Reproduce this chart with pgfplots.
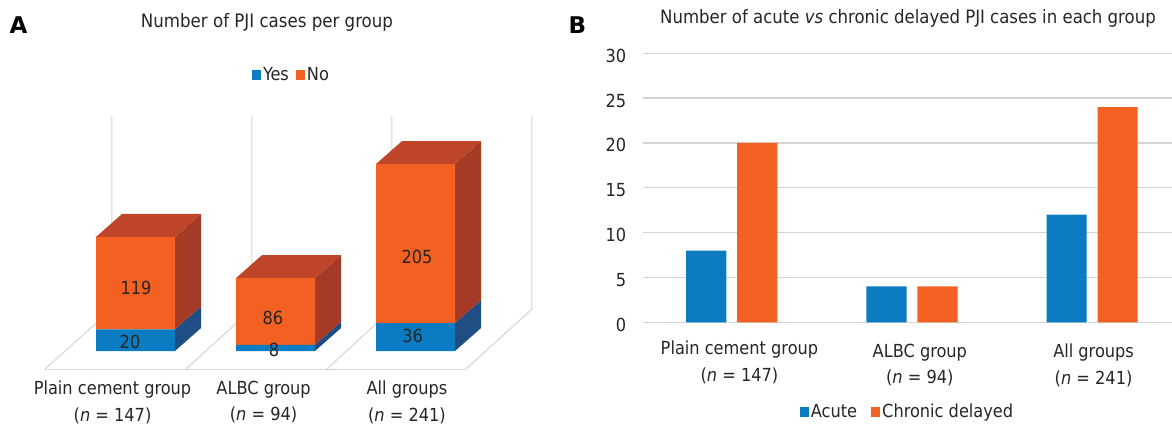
\documentclass[border=0pt]{standalone}
\usepackage{fontspec}
\setmainfont{DejaVu Sans Condensed}
\newfontfamily\heavy{DejaVu Sans}[BoldFont={DejaVu Sans Bold}]
\usepackage{pgfplots}
\pgfplotsset{compat=1.18}
\definecolor{cblue}{HTML}{0B7CC1}
\definecolor{corange}{HTML}{F26122}
\definecolor{sblue}{HTML}{1F4E85}
\definecolor{sorange}{HTML}{A53A26}
\definecolor{torange}{HTML}{BE4527}
\definecolor{cgrid}{HTML}{D4D4D4}
\tikzset{lbl/.style={font=\fontsize{18}{26.7}\selectfont, text=black!85}}
\pgfplotsset{
  squarelegend/.style={
    legend cell align=left,
    legend image code/.code={\fill[##1] (0pt,-5pt) rectangle (9pt,5pt);},
    legend style={draw=none, fill=none, font=\fontsize{18}{20}\selectfont,
      inner sep=0pt, text=black!85},
  },
}
\begin{document}
\begin{tikzpicture}
\path[use as bounding box] (0,0) rectangle (1172pt,425pt);

% ---------- Panel A: back walls, floor and side faces
\begin{axis}[
  at={(30.5pt,50.7pt)}, anchor=south west,
  x=140pt, y=0.776pt, xmin=-0.75, xmax=2.95, ymin=-30, ymax=310,
  clip=false, hide axis]
\pgfplotsset{every axis plot/.append style={forget plot}}
% floor and wall lines
\addplot[cgrid, line width=1pt] coordinates {(-0.646,-23.2) (2.361,-23.2)};
\addplot[cgrid, line width=1pt] coordinates {(-0.646,-23.2) (-0.168,54.1) (-0.168,302.8)};
\addplot[cgrid, line width=1pt] coordinates {(0.361,-23.2) (0.832,54.1) (0.832,302.8)};
\addplot[cgrid, line width=1pt] coordinates {(1.368,-23.2) (1.832,54.1) (1.832,302.8)};
\addplot[cgrid, line width=1pt] coordinates {(2.361,-23.2) (2.832,54.1) (2.832,302.8)};
% bar 1: Yes 28 as drawn (labelled 20 in the reference), total 147
\addplot[fill=sblue, draw=none] coordinates {(0.282,0) (0.468,29.6) (0.468,57.6) (0.282,28)} --cycle;
\addplot[fill=sorange, draw=none] coordinates {(0.282,28) (0.468,57.6) (0.468,176.6) (0.282,147)} --cycle;
\addplot[fill=torange, draw=none] coordinates {(-0.282,147) (0.282,147) (0.468,176.6) (-0.096,176.6)} --cycle;
% bar 2: Yes 8, total 94
\addplot[fill=sblue, draw=none] coordinates {(1.282,0) (1.468,29.6) (1.468,37.6) (1.282,8)} --cycle;
\addplot[fill=sorange, draw=none] coordinates {(1.282,8) (1.468,37.6) (1.468,123.6) (1.282,94)} --cycle;
\addplot[fill=torange, draw=none] coordinates {(0.718,94) (1.282,94) (1.468,123.6) (0.904,123.6)} --cycle;
% bar 3: Yes 36, total 241
\addplot[fill=sblue, draw=none] coordinates {(2.282,0) (2.468,29.6) (2.468,65.6) (2.282,36)} --cycle;
\addplot[fill=sorange, draw=none] coordinates {(2.282,36) (2.468,65.6) (2.468,270.6) (2.282,241)} --cycle;
\addplot[fill=torange, draw=none] coordinates {(1.718,241) (2.282,241) (2.468,270.6) (1.904,270.6)} --cycle;
\end{axis}

% ---------- Panel A: stacked front faces
\begin{axis}[
  at={(30.5pt,50.7pt)}, anchor=south west,
  x=140pt, y=0.776pt, xmin=-0.75, xmax=2.95, ymin=-30, ymax=310,
  clip=false, ybar stacked, bar width=79pt,
  axis line style={draw=none}, major tick length=0pt,
  ytick=\empty,
  xtick={-0.164,0.915,1.939},
  xticklabels={{Plain cement group\\(\textit{n} = 147)},{ALBC group\\(\textit{n} = 94)},{All groups\\(\textit{n} = 241)}},
  xticklabel style={align=center, lbl, yshift=-3pt},
  squarelegend,
  legend columns=2,
  legend style={at={(axis cs:1.114,355.7)}, anchor=center,
    /tikz/every even column/.append style={column sep=5pt}},
]
\addplot[fill=cblue, draw=none] coordinates {(0,28) (1,8) (2,36)};
\addplot[fill=corange, draw=none] coordinates {(0,119) (1,86) (2,205)};
\legend{Yes,No}
\end{axis}

% ---------- Panel A: value labels, above the bars
\begin{axis}[
  at={(30.5pt,50.7pt)}, anchor=south west,
  x=140pt, y=0.776pt, xmin=-0.75, xmax=2.95, ymin=-30, ymax=310,
  clip=false, hide axis]
\node[lbl] at (axis cs:-0.039,11.6) {20};
\node[lbl] at (axis cs:0.004,81.2) {119};
\node[lbl] at (axis cs:0.982,42.5) {86};
\node[lbl] at (axis cs:0.989,1.3) {8};
\node[lbl] at (axis cs:2.011,121.1) {205};
\node[lbl] at (axis cs:1.979,19.3) {36};
\end{axis}

% ---------- Panel B
\begin{axis}[
  at={(642.7pt,102.7pt)}, anchor=south west,
  x=180.2pt, y=8.97pt, xmin=-0.494, xmax=2.443, ymin=0, ymax=30,
  ybar=10.8pt, bar width=40.2pt,
  axis line style={draw=none}, major tick length=0pt,
  ymajorgrids, grid style={cgrid, line width=1.3pt},
  ytick={0,5,10,15,20,25,30},
  yticklabel style={lbl, yshift=-2.5pt, xshift=-13pt},
  xtick={1.044,2.008},
  xticklabels={{ALBC group\\(\textit{n} = 94)},{All groups\\(\textit{n} = 241)}},
  xticklabel style={align=center, lbl, yshift=-18pt},
  extra x ticks={0.043},
  extra x tick labels={{Plain cement group\\(\textit{n} = 147)}},
  extra x tick style={xticklabel style={yshift=3pt}},
  /pgf/number format/assume math mode=true,
  squarelegend,
  legend columns=2,
  legend style={at={(axis cs:0.976,-9.98)}, anchor=center,
    /tikz/every even column/.append style={column sep=12pt}},
]
\addplot[fill=cblue, draw=none] coordinates {(0,8) (1,4) (2,12)};
\addplot[fill=corange, draw=none] coordinates {(0,20) (1,4) (2,24)};
\legend{Acute,Chronic delayed}
\end{axis}

% ---------- Titles and panel letters
\node[font=\fontsize{18.5}{20}\selectfont, text=black!85] at (267pt,403pt) {Number of PJI cases per group};
\node[font=\fontsize{18.4}{20}\selectfont, text=black!85] at (908pt,406.7pt) {Number of acute \textit{vs} chronic delayed PJI cases in each group};
\node[font=\heavy\bfseries\fontsize{23}{24}\selectfont] at (18.6pt,400pt) {A};
\node[font=\heavy\bfseries\fontsize{23}{24}\selectfont] at (577.5pt,400pt) {B};
\end{tikzpicture}
\end{document}
